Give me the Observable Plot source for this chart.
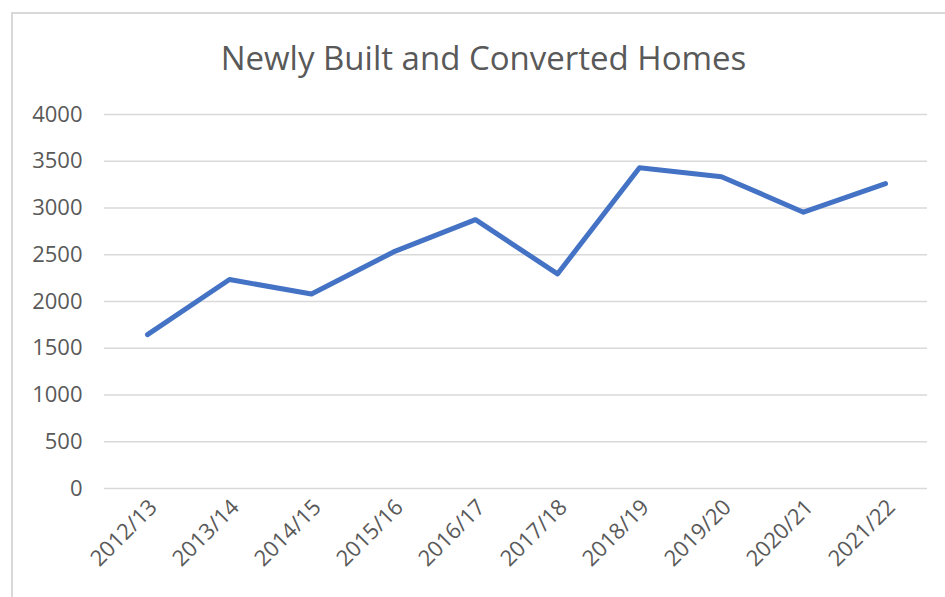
<!DOCTYPE html>
<html>
<head>
<meta charset="utf-8">
<script src="https://cdn.jsdelivr.net/npm/d3@7"></script>
<script src="https://cdn.jsdelivr.net/npm/@observablehq/plot@0.6"></script>
<style>
  html, body { margin: 0; padding: 0; background: #fff; }
  #wrap { position: relative; width: 945px; height: 597px; overflow: hidden; background: #fff; font-family: "Open Sans", sans-serif; }
  #frame { position: absolute; left: 11px; top: 12px; width: 960px; height: 620px; border-left: 2px solid #d9d9d9; border-top: 2px solid #d9d9d9; box-sizing: border-box; }
  #title { position: absolute; left: 0; top: 0; width: 945px; height: 90px; box-sizing: border-box; padding-left: 22px; text-align: center; font-size: 33px; color: #595959; line-height: 1; padding-top: 41px; }
  #chart { position: absolute; left: 0; top: 90px; }
</style>
</head>
<body>
<div id="wrap">
  <div id="frame"></div>
  <div id="title">Newly Built and Converted Homes</div>
  <div id="chart"></div>
</div>
<script>
const years = ["2012/13","2013/14","2014/15","2015/16","2016/17","2017/18","2018/19","2019/20","2020/21","2021/22"];
const homes = [1645, 2235, 2080, 2530, 2875, 2295, 3430, 3335, 2955, 3260];
const yTicks = [0, 500, 1000, 1500, 2000, 2500, 3000, 3500, 4000];

const data = years.map((y, i) => ({year: y, value: homes[i]}));

const plot = Plot.plot({
  width: 945,
  height: 507,
  marginTop: 24,
  marginBottom: 109,
  marginLeft: 104,
  marginRight: 18,
  style: { fontFamily: "Open Sans, sans-serif", fontSize: "22px", color: "#595959", background: "transparent", overflow: "visible" },
  x: { type: "point", domain: years, padding: 0.5, label: null },
  y: { domain: [0, 4000], label: null },
  marks: [
    Plot.gridY(yTicks, { stroke: "#d9d9d9", strokeOpacity: 1, strokeWidth: 1.5 }),
    Plot.axisY(yTicks, { tickSize: 0, tickPadding: 22, tickFormat: d => String(d), label: null, fill: "#595959", fontSize: 22 }),
    Plot.axisX({ tickSize: 0, tickRotate: -45, tickPadding: 15, dx: 6, label: null, fill: "#595959", fontSize: 22 }),
    Plot.line(data, { x: "year", y: "value", stroke: "#4472c4", strokeWidth: 5, strokeLinecap: "round", strokeLinejoin: "round" })
  ]
});
document.getElementById("chart").appendChild(plot);
</script>
</body>
</html>
